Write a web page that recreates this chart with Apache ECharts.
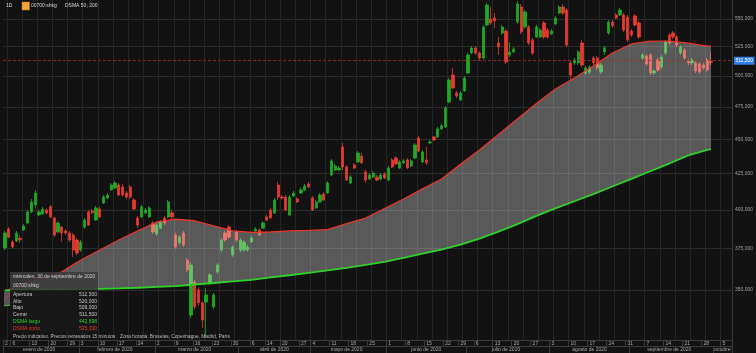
<!DOCTYPE html>
<html><head><meta charset="utf-8">
<script src="https://cdn.jsdelivr.net/npm/echarts@6/dist/echarts.min.js"></script>
<style>html,body{margin:0;padding:0;background:#121212;}#c{width:756px;height:353px;}</style>
</head><body><div id="c"></div>
<script>
// ---- categories: HK trading days 2020 (Oct = future slots) ----
const monthNames = ['enero de 2020','febrero de 2020','marzo de 2020','abril de 2020','mayo de 2020','junio de 2020','julio de 2020','agosto de 2020','septiembre de 2020','octubre'];
const tradingDays = [
  [2,3,6,7,8,9,10,13,14,15,16,17,20,21,22,23,24,29,30,31],
  [3,4,5,6,7,10,11,12,13,14,17,18,19,20,21,24,25,26,27,28],
  [2,3,4,5,6,9,10,11,12,13,16,17,18,19,20,23,24,25,26,27,30,31],
  [1,2,3,6,7,8,9,14,15,16,17,20,21,22,23,24,27,28,29],
  [4,5,6,7,8,11,12,13,14,15,18,19,20,21,22,25,26,27,28,29],
  [1,2,3,4,5,8,9,10,11,12,15,16,17,18,19,22,23,24,26,29,30],
  [2,3,6,7,8,9,10,13,14,15,16,17,20,21,22,23,24,27,28,29,30,31],
  [3,4,5,6,7,10,11,12,13,14,17,18,19,20,21,24,25,26,27,28,31],
  [1,2,3,4,7,8,9,10,11,14,15,16,17,18,21,22,23,24,25,28,29,30],
  [1,2,5,6,7]
];
// ---- OHLC (HKD) ----
const open = [
375.4,387.4,379.1,379.8,381.5,386.8,391.3,398.6,403.3,396.6,
397.3,399.9,402.0,394.6,385.5,388.7,386.2,384.9,383.6,380.4,
374.1,388.7,398.6,399.3,393.3,400.6,404.6,408.0,413.5,414.8,
416.9,415.5,411.4,415.5,406.6,394.6,395.3,398.0,395.3,391.3,
384.2,388.0,394.6,395.3,398.0,383.6,378.6,384.9,367.9,335.7,
354.7,350.0,342.6,343.0,354.1,340.3,360.7,374.1,384.9,388.7,
371.0,385.5,374.1,374.1,374.1,379.1,386.2,386.8,388.0,395.3,
399.9,397.9,416.9,408.6,408.6,396.6,409.3,407.3,411.4,413.5,
417.6,408.0,401.3,405.3,410.7,411.4,423.9,427.5,427.5,444.2,
429.6,418.3,431.1,433.3,437.4,426.1,421.1,422.5,422.5,421.1,
424.6,420.4,434.7,436.1,428.9,432.6,434.7,430.4,436.1,450.9,
433.3,434.7,447.2,451.7,451.7,457.8,459.3,478.8,500.8,486.1,
480.4,487.7,502.5,519.5,523.8,519.5,515.2,544.4,549.8,550.7,
528.3,537.1,538.9,517.8,520.4,547.1,561.0,542.6,542.6,530.9,
533.6,533.6,546.2,539.8,536.3,545.3,555.3,560.9,558.1,510.9,
511.0,511.0,528.3,502.5,503.3,515.2,515.2,503.3,520.5,537.1,
547.1,553.5,553.5,553.5,551.6,538.9,552.6,546.2,515.2,516.9,
517.8,502.5,513.5,507.5,519.5,535.4,537.1,533.6,519.5,522.1,
512.6,511.0,511.0,510.1,509.2,513.5,512.5];
const close = [
384.9,382.3,376.0,384.9,380.5,389.4,398.6,405.3,411.4,398.6,
400.5,397.9,395.3,383.6,391.3,384.9,384.9,380.4,374.1,372.2,
379.1,393.3,390.0,398.0,401.3,395.3,408.6,410.0,416.9,418.3,
410.0,410.0,408.6,408.6,400.6,390.0,402.0,399.9,401.3,385.5,
390.0,392.0,391.3,405.3,395.3,376.0,382.3,377.3,361.9,364.9,
340.3,342.6,332.9,347.1,358.9,347.1,364.9,380.4,380.4,382.3,
376.0,380.4,380.4,379.1,376.0,381.7,387.4,383.6,391.3,393.3,
394.6,406.6,408.6,408.0,399.9,408.6,411.4,405.3,413.5,416.2,
415.5,399.9,405.3,410.0,406.6,418.3,434.0,430.4,428.9,429.6,
420.4,422.5,428.9,439.8,432.6,420.4,423.9,425.3,420.4,423.9,
421.8,428.9,429.6,431.8,433.3,434.0,428.9,434.0,445.7,441.2,
440.5,432.6,447.9,449.4,457.8,460.1,474.0,496.7,490.1,483.6,
486.1,498.3,517.8,523.8,519.5,515.2,542.5,562.8,546.2,548.0,
524.7,542.5,511.8,520.4,523.0,563.7,538.0,556.3,528.3,519.5,
542.6,539.8,533.6,533.6,538.9,550.7,560.9,555.3,526.5,500.8,
513.5,520.4,509.2,506.7,507.5,511.0,506.7,509.2,524.0,547.1,
543.5,550.7,558.1,539.8,530.9,535.4,544.4,533.6,517.8,510.1,
502.5,504.2,505.0,516.1,529.1,528.3,533.6,526.5,524.7,515.2,
511.0,513.5,504.2,503.3,506.7,505.0,511.5];
const low = [
374.1,381.4,375.4,379.1,378.5,386.2,390.6,398.0,401.0,396.0,
396.6,397.0,394.5,382.3,384.9,379.3,383.6,379.1,369.8,371.0,
372.8,387.4,389.4,397.3,392.6,394.6,404.0,407.3,412.8,414.1,
409.3,409.0,407.3,407.3,399.9,388.0,394.6,397.3,394.6,384.2,
383.0,387.4,390.0,394.6,394.0,374.7,377.3,376.0,360.7,334.0,
339.0,341.0,328.5,323.3,353.0,339.0,359.5,372.8,379.1,381.0,
369.8,379.1,372.8,373.0,373.0,378.5,385.5,383.0,387.4,392.6,
394.0,397.3,406.6,407.0,399.3,396.0,408.6,404.6,410.7,412.8,
414.8,399.3,400.6,404.6,406.0,410.7,423.2,426.8,426.8,427.5,
419.7,417.6,428.2,432.6,431.8,418.5,420.4,421.8,419.7,420.0,
421.0,419.7,428.9,431.1,428.2,431.8,428.2,429.6,435.4,440.5,
432.6,431.1,446.4,448.6,450.9,457.0,458.5,478.0,489.3,482.0,
479.6,486.9,501.6,518.6,517.8,512.6,514.3,543.5,544.4,541.6,
517.8,535.4,510.1,516.1,519.5,545.3,536.2,541.0,526.5,517.8,
532.7,532.7,531.8,531.8,535.4,544.4,554.4,553.5,524.7,496.7,
509.2,509.2,507.5,500.8,501.6,509.2,505.0,501.6,517.8,535.4,
541.6,549.8,552.6,538.0,529.1,533.6,542.6,531.8,513.5,508.4,
500.8,500.8,503.3,505.9,517.8,526.5,531.8,524.7,517.8,513.5,
509.2,509.2,502.5,501.6,505.0,503.3,509.0];
const high = [
386.2,388.7,380.4,386.2,383.5,390.6,399.9,407.3,413.5,400.0,
402.0,401.0,403.3,395.3,392.6,389.4,387.4,386.2,384.9,381.7,
380.4,394.6,399.9,400.6,402.6,402.0,410.0,411.4,418.3,419.7,
418.3,417.6,412.8,416.9,408.0,396.0,403.3,401.3,402.6,392.6,
391.3,393.3,396.0,406.6,400.0,385.0,383.6,386.2,369.1,366.5,
356.0,351.5,343.5,351.2,360.1,348.3,366.1,381.7,386.2,390.0,
377.3,386.8,381.7,380.4,377.5,383.0,388.7,388.0,392.6,396.6,
401.3,408.0,419.0,410.0,410.0,410.0,412.8,408.6,415.0,417.6,
419.0,409.3,406.6,411.4,412.0,419.7,435.4,431.8,430.4,447.2,
431.0,423.9,432.5,441.2,440.0,427.5,425.3,426.8,424.0,425.3,
426.0,430.4,436.1,437.6,434.7,435.4,436.1,435.4,447.2,452.4,
441.9,444.2,449.4,452.4,459.3,461.6,475.6,498.3,506.7,487.7,
487.7,500.0,519.5,525.6,525.6,521.0,544.4,565.0,560.9,555.3,
533.6,544.4,540.7,529.1,524.7,566.5,563.7,558.1,544.4,532.7,
544.4,541.6,548.0,541.6,540.7,552.6,562.8,563.7,560.0,513.5,
515.2,522.1,530.9,508.4,509.2,516.9,516.9,511.0,525.5,548.9,
548.9,555.3,560.0,555.3,553.5,540.7,554.4,548.0,519.5,518.6,
519.5,505.9,515.2,517.8,530.9,537.1,538.9,535.4,526.5,523.8,
514.3,515.2,512.6,511.8,510.9,515.2,520.0];
// ---- moving averages, read at sample trading-day indices ----
const maIdx = [0,5,10,15,20,25,30,35,40,45,50,55,60,65,70,75,80,85,90,95,100,105,110,115,120,125,130,135,140,145,150,155,160,165,170,175,180,185,186];
const maShort = [349.4,353.8,356.8,360.7,367.9,374.1,380.4,386.2,392.0,393.8,392.8,389.4,386.2,385.3,385.5,386.2,386.5,387.1,391.0,394.6,400.9,407.3,414.2,421.1,431.5,442.0,453.6,465.4,477.6,489.3,498.3,508.4,519.5,527.4,529.9,529.9,528.2,525.6,525.33];
const maLong = [349.7,349.8,350.0,350.1,350.3,350.6,350.9,351.3,351.8,352.3,353.2,354.1,355.1,356.0,357.4,358.7,360.1,361.6,363.1,364.9,366.8,369.3,371.8,374.3,377.5,381.3,385.8,390.6,396.0,401.0,405.8,410.6,415.9,421.2,426.6,432.1,438.0,442.1,442.698];
const yTicks = [350,375,400,425,450,475,500,525,550];

// ---- build ----
const L = Math.log;
const fmt = v => v.toFixed(3).replace('.', ',');
const cats = [], catMonth = [], catDow = [];
tradingDays.forEach((ds, m) => ds.forEach(d => {
  cats.push('2020-' + String(m + 1).padStart(2, '0') + '-' + String(d).padStart(2, '0'));
  catMonth.push(m); catDow.push(new Date(2020, m, d).getDay());
}));
const weekStart = cats.map((c, i) => i === 0 || catDow[i] < catDow[i - 1]);
const monthStart = cats.map((c, i) => i === 0 || catMonth[i] !== catMonth[i - 1]);
const monthMid = {};
monthNames.forEach((n, m) => {
  const idx = cats.map((c, i) => i).filter(i => catMonth[i] === m);
  monthMid[Math.floor((idx[0] + idx[idx.length - 1]) / 2)] = n;
});
const candle = cats.map((c, i) => i < open.length ? [L(open[i]), L(close[i]), L(low[i]), L(high[i])] : '-');
const longPts = maIdx.map((ix, k) => [ix, L(maLong[k])]);
const shortPts = maIdx.map((ix, k) => [ix, L(maShort[k])]);
const bandRows = maIdx.map((ix, k) => [ix, L(maLong[k]), L(maShort[k])]);
const n = open.length - 1;
const last = {o: open[n], h: high[n], l: low[n], c: close[n]};

const FONT = 'Liberation Sans, Arial, sans-serif';
const axisCol = '#3a3a3a';
const chart = echarts.init(document.getElementById('c'), null, {width: 756, height: 353});
const T = (x, y, text, fill, extra) => Object.assign({type: 'text', x, y, z: 100,
  style: Object.assign({text, fill: fill || '#cfcfcf', fontSize: 5, fontFamily: FONT, verticalAlign: 'middle'}, extra || {})});

const rows = [
  ['Apertura', fmt(last.o), '#c8c8c8'], ['Alto', fmt(last.h), '#c8c8c8'], ['Bajo', fmt(last.l), '#c8c8c8'],
  ['Cerrar', fmt(last.c), '#c8c8c8'], ['DSMA largo', fmt(maLong[maLong.length - 1]), '#2fd12a'],
  ['DSMA corto', fmt(maShort[maShort.length - 1]), '#e8352d']];
const rowY = [295, 301.5, 308, 315, 321.7, 328.3];
const graphics = [
  {type: 'rect', z: 99, shape: {x: 22, y: 2, width: 7.5, height: 8}, style: {fill: '#f2a33a', stroke: '#c07a20', lineWidth: 0.5}},
  T(6, 6, '1D', '#d8d8d8'), T(31, 6, '00700:shkg', '#d8d8d8'), T(65, 6, 'DSMA 50; 200', '#d8d8d8'),
  {type: 'rect', z: 99, shape: {x: 10, y: 272, width: 88, height: 18}, style: {fill: 'rgba(58,58,58,0.88)'}},
  {type: 'rect', z: 99, shape: {x: 10, y: 290, width: 88, height: 42}, style: {fill: 'rgba(24,24,24,0.9)'}},
  {type: 'rect', z: 99, shape: {x: 4, y: 292, width: 6, height: 14}, style: {fill: '#555'}},
  {type: 'line', z: 100, shape: {x1: 4, y1: 300, x2: 10, y2: 293}, style: {stroke: '#e8352d', lineWidth: 0.8}},
  {type: 'line', z: 100, shape: {x1: 4, y1: 306, x2: 10, y2: 305}, style: {stroke: '#2fd12a', lineWidth: 0.8}},
  T(13, 276.5, 'miércoles, 30 de septiembre de 2020', '#d0d0d0'),
  T(13, 285.5, '00700:shkg', '#d0d0d0'),
  T(13, 336.5, 'Precio indicativo. Precios retrasados 15 minutos', '#bdbdbd', {fontSize: 4.8}),
  T(120, 336.5, 'Zona horaria: Bruselas, Copenhague, Madrid, París', '#bdbdbd', {fontSize: 4.8})
];
rows.forEach((r, k) => {
  graphics.push(T(13, rowY[k], r[0], r[2]));
  graphics.push(T(97, rowY[k], r[1], r[2], {align: 'right'}));
});

chart.setOption({
  animation: false,
  backgroundColor: '#121212',
  textStyle: {fontFamily: FONT},
  grid: {left: 3, right: 21, top: 0, bottom: 13},
  xAxis: [{
    type: 'category', data: cats, boundaryGap: true,
    axisLine: {show: true, lineStyle: {color: axisCol}},
    axisTick: {show: true, length: 6, interval: (i) => weekStart[i], lineStyle: {color: axisCol}},
    axisLabel: {interval: (i) => weekStart[i], formatter: (v) => String(+v.slice(8)), color: '#a8a8a8', fontSize: 5, margin: 1.5, align: 'left'},
    splitLine: {show: true, interval: (i) => i % 4 === 1, lineStyle: {color: '#262626', width: 1}}
  }, {
    type: 'category', data: cats, boundaryGap: true, position: 'bottom', offset: 6,
    axisLine: {show: true, lineStyle: {color: axisCol}},
    axisTick: {show: true, length: 8, interval: (i) => monthStart[i], lineStyle: {color: axisCol}},
    axisLabel: {interval: (i) => monthMid[i] !== undefined, formatter: (v, i) => monthMid[i] || '', color: '#a8a8a8', fontSize: 5, margin: 1.5},
    splitLine: {show: false}
  }],
  yAxis: {
    type: 'value', position: 'right', min: L(322), max: L(567.5),
    axisLine: {show: true, lineStyle: {color: axisCol}},
    axisTick: {show: false, customValues: yTicks.map(L)},
    axisLabel: {customValues: yTicks.map(L), formatter: (v) => fmt(Math.exp(v)), color: '#a0a0a0', fontSize: 5, margin: 3},
    splitLine: {show: true, lineStyle: {color: '#2c2c2c', width: 1}}
  },
  series: [{
    type: 'candlestick', data: candle, z: 2, barWidth: '72%',
    itemStyle: {color: '#1fa824', color0: '#e53b2f', borderColor: '#1fa824', borderColor0: '#e53b2f', borderWidth: 0.8},
    markLine: {
      silent: true, symbol: ['none', 'none'],
      data: [{yAxis: L(last.c)}],
      lineStyle: {color: '#a0302a', type: [3, 2], width: 0.8},
      label: {show: true, position: 'end', formatter: () => fmt(last.c), color: '#ffffff', backgroundColor: '#2f7ee0', fontSize: 5, padding: [1.5, 1.5], distance: 2}
    }
  }, {
    type: 'custom', data: bandRows, z: 3, clip: true, encode: {x: 0, y: [1, 2]},
    renderItem: (params, api) => {
      if (params.dataIndex !== 0) return null;
      const top = bandRows.map(r => api.coord([r[0], r[2]]));
      const bot = bandRows.map(r => api.coord([r[0], r[1]])).reverse();
      return {type: 'polygon', shape: {points: top.concat(bot)}, style: {fill: 'rgba(255,255,255,0.3)'}};
    }
  }, {
    name: 'DSMA largo', type: 'line', data: longPts, symbol: 'none', z: 5,
    lineStyle: {color: '#2fd12a', width: 1.8}
  }, {
    name: 'DSMA corto', type: 'line', data: shortPts, symbol: 'none', z: 4,
    lineStyle: {color: '#e8352d', width: 1.3}
  }],
  graphic: graphics
});
</script></body></html>
